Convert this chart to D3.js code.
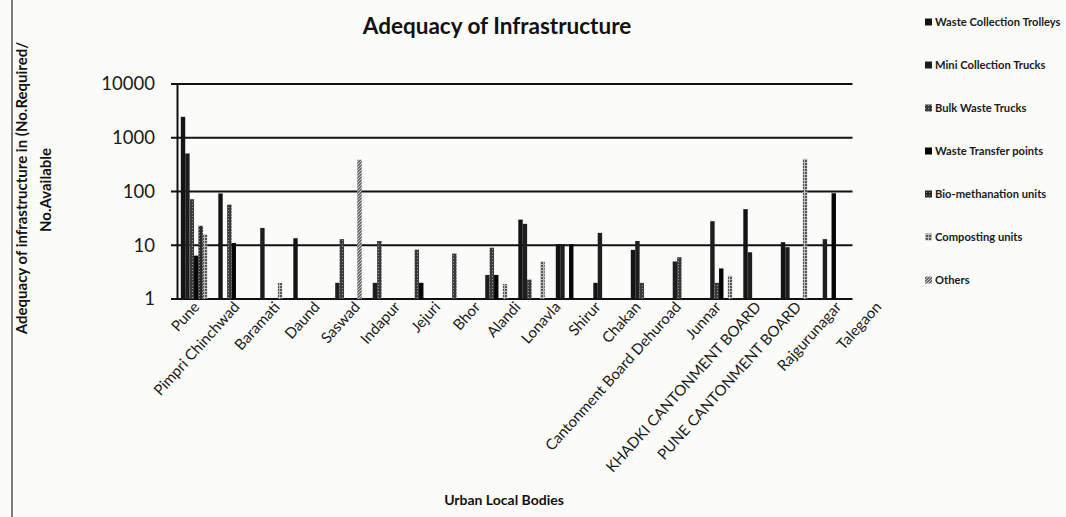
<!DOCTYPE html>
<html>
<head>
<meta charset="utf-8">
<script src="https://cdn.jsdelivr.net/npm/d3@7"></script>
<style>
  body { margin: 0; background: #fbfbf9; }
  svg { display: block; font-family: Lato, "Open Sans", sans-serif; }
</style>
</head>
<body>
<svg id="chart" width="1066" height="517"></svg>
<script>
// Urban local bodies along the x axis
const categories = ["Pune", "Pimpri Chinchwad", "Baramati", "Daund", "Saswad", "Indapur", "Jejuri",
  "Bhor", "Alandi", "Lonavla", "Shirur", "Chakan", "Cantonment Board Dehuroad", "Junnar",
  "KHADKI CANTONMENT BOARD", "PUNE CANTONMENT BOARD", "Rajgurunagar", "Talegaon"];

const seriesNames = ["Waste Collection Trolleys", "Mini Collection Trucks", "Bulk Waste Trucks",
  "Waste Transfer points", "Bio-methanation units", "Composting units", "Others"];

// values read off the log scale, null = no bar
const trolleys       = [2450, 92, null, 13.5, null, null, null, null, null, 30, 10.5, 2, 8.2, null, null, 47, 11.4, null];
const miniTrucks     = [510, null, 21, null, 2, 2, null, null, 2.8, 25, 10.5, 17, 12, 5, 28, 7.4, 9.2, 13];
const bulkTrucks     = [72, 57, null, null, 13, 12, 8.3, 7, 9, 2.3, null, null, 2, 6, 2, null, null, null];
const transferPoints = [6.4, 11, null, null, null, null, 2, null, 2.8, null, 10.5, null, null, null, 3.7, null, null, 93];
const bioMethanation = [23, null, null, null, null, null, null, null, null, null, null, null, null, null, null, null, null, null];
const composting     = [16, null, 2, null, null, null, null, null, 1.9, 5, null, null, null, null, 2.7, null, 405, null];
const others         = [null, null, null, null, 390, null, null, null, null, null, null, null, null, null, null, null, null, null];

const yTicks = [1, 10, 100, 1000, 10000];

const seriesValues = [trolleys, miniTrucks, bulkTrucks, transferPoints, bioMethanation, composting, others];
const fills = ["#141414", "#1e1e1e", "url(#pBulk)", "#050505", "url(#pBio)", "url(#pComp)", "url(#pOther)"];

const svg = d3.select("#chart");

// patterns for the hatched series (scan is greyscale)
const defs = svg.append("defs");
function pattern(id, bg, draw) {
  const p = defs.append("pattern").attr("id", id).attr("patternUnits", "userSpaceOnUse")
    .attr("width", 3).attr("height", 3);
  p.append("rect").attr("width", 3).attr("height", 3).attr("fill", bg);
  draw(p);
}
pattern("pBulk", "#3a3a3a", p => p.append("rect").attr("width", 1).attr("height", 1).attr("fill", "#999"));
pattern("pBio", "#2a2a2a", p => p.append("rect").attr("x", 1).attr("y", 1).attr("width", 1).attr("height", 1).attr("fill", "#888"));
pattern("pComp", "#555", p => {
  p.append("rect").attr("width", 3).attr("height", 1).attr("fill", "#bbb");
  p.append("rect").attr("width", 1).attr("height", 3).attr("fill", "#bbb");
});
pattern("pOther", "#6a6a6a", p => p.append("path").attr("d", "M0,3 L3,0").attr("stroke", "#ccc").attr("stroke-width", 1));

// page border of the scan
svg.append("line").attr("x1", 12).attr("x2", 12).attr("y1", 0).attr("y2", 517)
  .attr("stroke", "#555").attr("stroke-width", 1.5);

const x0 = d3.scaleBand().domain(categories).range([177.5, 852.5]).padding(0);
const x1 = d3.scaleBand().domain(d3.range(seriesNames.length)).range([0, x0.bandwidth()])
  .paddingInner(0).paddingOuter(0.75);
const y = d3.scaleLog().domain([1, 10000]).range([299, 84]);
// in the scan the tick labels run a little wider than the bar groups
const xLabel = d3.scalePoint().domain(categories).range([192, 874]);

// gridlines
svg.append("g").selectAll("line").data(yTicks).join("line")
  .attr("x1", 171).attr("x2", 852.5)
  .attr("y1", d => y(d)).attr("y2", d => y(d))
  .attr("stroke", "#111").attr("stroke-width", 2);

svg.append("line").attr("x1", 177.5).attr("x2", 177.5).attr("y1", y(10000)).attr("y2", y(1))
  .attr("stroke", "#111").attr("stroke-width", 2);

// y tick labels
svg.append("g").selectAll("text").data(yTicks).join("text")
  .attr("x", 155).attr("y", d => y(d)).attr("dy", "0.35em")
  .attr("text-anchor", "end").attr("font-size", 18.5).attr("fill", "#1a1a1a")
  .text(d => d);

// bars
const groups = svg.append("g").selectAll("g").data(seriesValues).join("g")
  .attr("fill", (d, i) => fills[i]);

groups.each(function(vals, si) {
  d3.select(this).selectAll("rect")
    .data(vals.map((v, ci) => ({ v, c: categories[ci] })).filter(d => d.v != null))
    .join("rect")
    .attr("x", d => x0(d.c) + x1(si))
    .attr("width", x1.bandwidth())
    .attr("y", d => y(d.v))
    .attr("height", d => y(1) - y(d.v));
});

// category labels
svg.append("g").selectAll("text").data(categories).join("text")
  .attr("transform", d => `translate(${xLabel(d)},${300}) rotate(-48)`)
  .attr("text-anchor", "end").attr("dy", "0.75em")
  .attr("font-size", 15).attr("fill", "#1a1a1a")
  .text(d => d);

// title
svg.append("text").attr("x", 497).attr("y", 34).attr("text-anchor", "middle")
  .attr("font-size", 22.5).attr("font-weight", "bold").attr("fill", "#111")
  .text("Adequacy of Infrastructure");

// axis titles
svg.append("text").attr("transform", "translate(27,188) rotate(-90)").attr("text-anchor", "middle")
  .attr("font-size", 15).attr("font-weight", "bold").attr("fill", "#111")
  .text("Adequacy of infrastructure in (No.Required/");
svg.append("text").attr("transform", "translate(51,190) rotate(-90)").attr("text-anchor", "middle")
  .attr("font-size", 15).attr("font-weight", "bold").attr("fill", "#111")
  .text("No.Available");

svg.append("text").attr("x", 504).attr("y", 505).attr("text-anchor", "middle")
  .attr("font-size", 14).attr("font-weight", "bold").attr("fill", "#111")
  .text("Urban Local Bodies");

// legend
const legend = svg.append("g").selectAll("g").data(seriesNames).join("g")
  .attr("transform", (d, i) => `translate(925,${22 + i * 43})`);
legend.append("rect").attr("x", 0).attr("y", -3.5).attr("width", 7).attr("height", 7)
  .attr("fill", (d, i) => fills[i]);
legend.append("text").attr("x", 10).attr("dy", "0.35em")
  .attr("font-size", 11.2).attr("font-weight", "bold").attr("fill", "#1a1a1a")
  .text(d => d);
</script>
</body>
</html>
